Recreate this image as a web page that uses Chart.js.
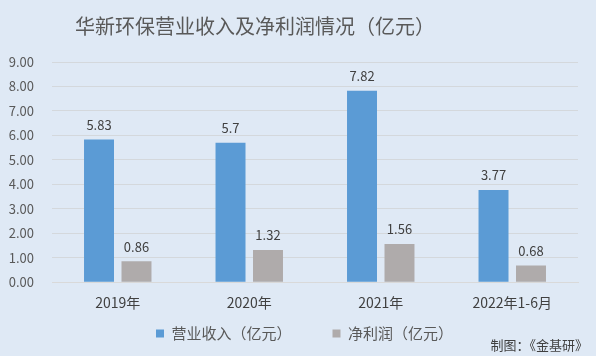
<!DOCTYPE html>
<html><head><meta charset="utf-8">
<script src="https://cdn.jsdelivr.net/npm/chart.js@4"></script>
<style>html,body{margin:0;padding:0;background:#dfe9f5;}#wrap{width:596px;height:356px;}</style>
</head><body><div id="wrap"><canvas id="c" width="596" height="356"></canvas></div>
<script>
const categories = ['2019年','2020年','2021年','2022年1-6月'];
const revenue = [5.83, 5.7, 7.82, 3.77];
const profit = [0.86, 1.32, 1.56, 0.68];
const seriesNames = ['营业收入（亿元）','净利润（亿元）'];
const titleText = '华新环保营业收入及净利润情况（亿元）';
const sourceText = '制图：《金基研》';
const FONT = '"Noto Sans CJK SC", "Microsoft YaHei", sans-serif';
const legendSpacing = ['\u3000\u3000\u2002', ''];

const bg = {id:'bg',beforeDraw(c){
  const x=c.ctx;x.save();x.fillStyle='#dfe9f5';x.fillRect(0,0,c.width,c.height);x.restore();
  if(c.legend && !c.legend._shifted){c.legend.left+=12;c.legend.right+=12;c.legend._shifted=true;}
}};
const extras = {id:'extras',afterDatasetsDraw(c){
  const x=c.ctx;x.save();
  x.font='13px '+FONT;x.fillStyle='#404040';x.textAlign='center';x.textBaseline='bottom';
  c.data.datasets.forEach((ds,i)=>{const m=c.getDatasetMeta(i);m.data.forEach((b,j)=>{x.fillText(String(ds.data[j]),b.x,b.y-8);});});
  x.font='20px '+FONT;x.fillStyle='#595959';x.textBaseline='middle';x.fillText(titleText,255,26);
  x.font='13px '+FONT;x.textAlign='right';x.fillStyle='#404040';x.fillText(sourceText,588,345);
  x.restore();}};

new Chart(document.getElementById('c'),{
  type:'bar',
  data:{labels:categories,datasets:[
    {label:seriesNames[0],data:revenue,backgroundColor:'#5b9bd5',barPercentage:0.8,categoryPercentage:0.57},
    {label:seriesNames[1],data:profit,backgroundColor:'#afabab',barPercentage:0.8,categoryPercentage:0.57}]},
  options:{responsive:false,animation:false,
    layout:{padding:{top:62,left:7,right:18,bottom:5}},
    plugins:{legend:{position:'bottom',labels:{font:{family:FONT,size:15},color:'#595959',boxWidth:8,boxHeight:8,padding:11,
      generateLabels(chart){const items=Chart.defaults.plugins.legend.labels.generateLabels(chart);items.forEach((it,i)=>{it.text=it.text+legendSpacing[i];it.lineWidth=0;});return items;}}},tooltip:{enabled:false}},
    scales:{
      x:{grid:{display:false},border:{color:'#d9d9d9'},ticks:{font:{family:FONT,size:14},color:'#404040',padding:4}},
      y:{min:0,max:9,afterFit(s){s.width=45;},ticks:{stepSize:1,callback:v=>v.toFixed(2),font:{family:FONT,size:13},color:'#595959',padding:18},grid:{color:'#d4d8dc',drawTicks:false},border:{display:false}}
    }},
  plugins:[bg,extras]
});
</script></body></html>
